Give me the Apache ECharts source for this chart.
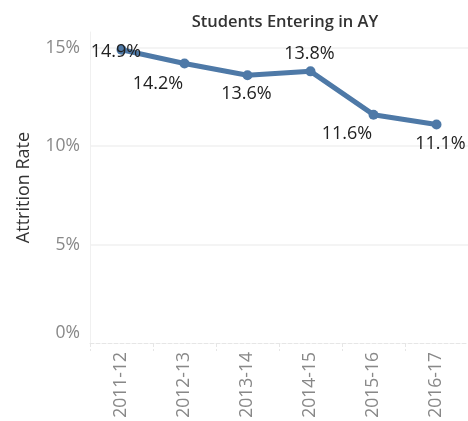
<!DOCTYPE html>
<html><head><meta charset="utf-8">
<script src="https://cdn.jsdelivr.net/npm/echarts@6/dist/echarts.min.js"></script>
<style>html,body{margin:0;padding:0;background:#fff}#c{width:468px;height:421px}</style>
</head><body><div id="c"></div>
<script>
const categories = ['2011-12','2012-13','2013-14','2014-15','2015-16','2016-17'];
const attritionRate = [14.9, 14.2, 13.6, 13.8, 11.6, 11.1];
const yTicks = [0, 5, 10, 15];

// label placement style (not data)
const labelPlacement = [[-5.5,2.5],[-26.5,20.5],[-1,19],[-1,-17],[-26.5,19.5],[4,19]];

const chart = echarts.init(document.getElementById('c'), null, {renderer:'canvas'});
const font = '"Open Sans", "Noto Sans", sans-serif';
chart.setOption({
  animation:false,
  title:{text:'Students Entering in AY', left:280, top:9, textAlign:'center',
    textStyle:{fontFamily:font, fontSize:16.5, fontWeight:600, color:'#333'}},
  grid:{left:90, right:-3, top:32, bottom:78, containLabel:false},
  xAxis:{type:'category', data:categories, boundaryGap:true,
    axisLine:{show:true, lineStyle:{color:'#e6e6e6', type:'dashed', width:1}},
    axisTick:{show:true, length:8, lineStyle:{color:'#e6e6e6', type:'dashed'}},
    axisLabel:{rotate:90, color:'#888', fontFamily:font, fontSize:17.5, margin:9}},
  yAxis:{type:'value', min:0, max:15.8, interval:5,
    name:'Attrition Rate', nameLocation:'middle', nameGap:57, nameRotate:90,
    nameTextStyle:{fontFamily:font, fontSize:18, color:'#333'},
    axisLine:{show:true, lineStyle:{color:'#f0f0f0'}},
    axisTick:{show:false},
    splitLine:{show:true, showMaxLine:false, showMinLine:false, lineStyle:{color:'#f0f0f0', width:1.5}},
    axisLabel:{color:'#888', fontFamily:font, fontSize:17.5, margin:10, showMaxLabel:false,
      formatter:v => v === 0 ? '{z|0%}' : (yTicks.includes(v) ? v + '%' : ''),
      rich:{z:{fontFamily:font, fontSize:17.5, color:'#888', padding:[0,0,20,0]}}}},
  series:[{type:'line', data:attritionRate.map((v,i)=>({value:v,
      label:{offset:labelPlacement[i]}})),
    symbol:'circle', symbolSize:10,
    lineStyle:{color:'#4e79a7', width:5},
    itemStyle:{color:'#4e79a7'},
    label:{show:true, position:'inside', formatter:p=>p.value.toFixed(1)+'%',
      fontFamily:font, fontSize:18, color:'#222'},
    z:3}]
});
</script></body></html>
